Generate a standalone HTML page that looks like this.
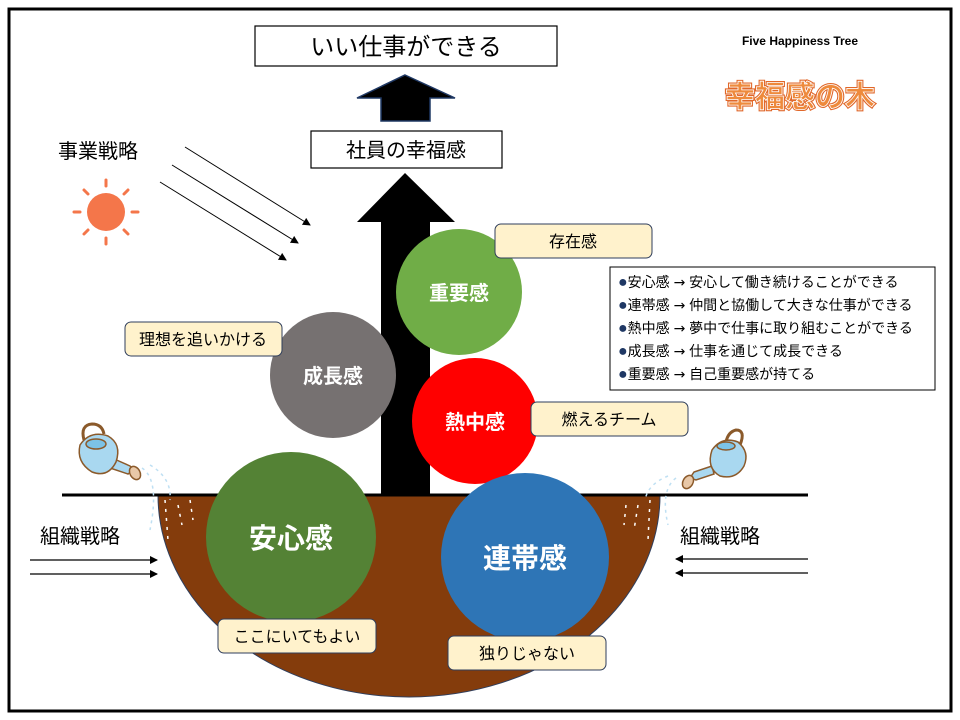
<!DOCTYPE html>
<html><head><meta charset="utf-8"><style>
html,body{margin:0;padding:0;background:#fff}
svg{display:block}
text{font-family:"Liberation Sans","Noto Sans CJK JP",sans-serif}
</style></head><body>
<svg width="960" height="720" viewBox="0 0 960 720" xmlns="http://www.w3.org/2000/svg">
<defs>
<marker id="ah" markerWidth="8" markerHeight="8" refX="7" refY="4" orient="auto" markerUnits="userSpaceOnUse"><path d="M0,0 L8,4 L0,8 z" fill="#000"/></marker>
</defs>
<rect x="9" y="9" width="942" height="702" fill="#fff" stroke="#000" stroke-width="3"/>

<!-- soil -->
<path d="M158,495 A251,202 0 0 0 660,495 Z" fill="#843c0c" stroke="#2f3e5c" stroke-width="1"/>
<line x1="62" y1="495" x2="808" y2="495" stroke="#000" stroke-width="3"/>

<!-- arrows -->
<path d="M405,173 L455,222 L430,222 L430,495 L381,495 L381,222 L357,222 Z" fill="#000"/>
<path d="M405,75 L455,98 L430,98 L430,121 L381,121 L381,98 L357,98 Z" fill="#000" stroke="#1f3864" stroke-width="1.5"/>

<!-- title boxes -->
<rect x="255" y="26" width="302" height="40" fill="#fff" stroke="#000" stroke-width="1.2"/>
<text x="406" y="55" font-size="24" text-anchor="middle">いい仕事ができる</text>
<rect x="311" y="131" width="191" height="37" fill="#fff" stroke="#000" stroke-width="1.2"/>
<text x="406" y="157" font-size="20" text-anchor="middle">社員の幸福感</text>

<text x="800" y="45" font-size="12" font-weight="bold" text-anchor="middle">Five Happiness Tree</text>
<text x="800" y="107" font-size="30" font-weight="bold" text-anchor="middle" fill="#ee8a3c" stroke="#e0672a" stroke-width="3" paint-order="stroke">幸福感の木</text>
<text x="800" y="107" font-size="30" font-weight="bold" text-anchor="middle" fill="#ee8a3c" stroke="#fff" stroke-width="0.8">幸福感の木</text>

<!-- sun & business strategy -->
<text x="58" y="158" font-size="20">事業戦略</text>
<g stroke="#f4764a" stroke-width="3" stroke-linecap="round">
<line x1="106" y1="180" x2="106" y2="186"/><line x1="106" y1="238" x2="106" y2="244"/>
<line x1="74" y1="212" x2="80" y2="212"/><line x1="132" y1="212" x2="138" y2="212"/>
<line x1="84" y1="190" x2="88" y2="194"/><line x1="124" y1="230" x2="128" y2="234"/>
<line x1="128" y1="190" x2="124" y2="194"/><line x1="88" y1="230" x2="84" y2="234"/>
</g>
<circle cx="106" cy="212" r="19" fill="#f4764a"/>
<g stroke="#000" stroke-width="1" marker-end="url(#ah)">
<line x1="185" y1="147" x2="310" y2="225"/>
<line x1="172" y1="165" x2="298" y2="243"/>
<line x1="160" y1="182" x2="286" y2="260"/>
</g>

<!-- org strategy -->
<text x="40" y="543" font-size="20">組織戦略</text>
<g stroke="#000" stroke-width="1.2" marker-end="url(#ah)">
<line x1="30" y1="560" x2="157" y2="560"/><line x1="30" y1="574" x2="157" y2="574"/>
<line x1="808" y1="559" x2="676" y2="559"/><line x1="808" y1="573" x2="676" y2="573"/>
</g>
<text x="680" y="543" font-size="20">組織戦略</text>

<!-- watering cans -->
<g stroke="#8b5a2b" stroke-width="1.5" fill="#a9d8f0">
<path d="M84,440 Q80,425 92,424 Q102,424 104,434" fill="none" stroke-width="3"/>
<path d="M112,458 L130,466 L134,470 L128,474 L110,468 Z"/>
<path d="M80,445 Q90,430 108,436 Q122,444 116,462 Q108,478 92,472 Q76,462 80,445 Z"/>
<ellipse cx="96" cy="444" rx="10" ry="5" fill="#7cc3e6"/>
<ellipse cx="135" cy="473" rx="5" ry="7" fill="#e8c8a8" transform="rotate(-30 135 473)"/>
<path d="M740,445 Q746,430 736,430 Q728,432 726,442" fill="none" stroke-width="3"/>
<path d="M712,466 L694,472 L690,478 L696,480 L714,474 Z"/>
<path d="M712,450 Q722,436 738,442 Q750,452 744,466 Q736,480 720,476 Q706,468 712,450 Z"/>
<ellipse cx="726" cy="446" rx="9" ry="4" fill="#7cc3e6"/>
<ellipse cx="688" cy="482" rx="5" ry="7" fill="#e8c8a8" transform="rotate(30 688 482)"/>
</g>
<g stroke="#bfe0f3" stroke-width="1.5" stroke-dasharray="3,4" fill="none">
<path d="M142,468 Q160,480 150,530"/><path d="M150,465 Q172,478 170,500"/>
<path d="M676,478 Q660,490 668,525"/><path d="M668,476 Q648,484 645,500"/>
</g>
<g stroke="#fff" stroke-width="1.5" stroke-dasharray="3,6">
<line x1="165" y1="500" x2="168" y2="540"/><line x1="178" y1="505" x2="182" y2="525"/><line x1="190" y1="500" x2="193" y2="520"/>
<line x1="650" y1="500" x2="648" y2="540"/><line x1="638" y1="505" x2="634" y2="530"/><line x1="626" y1="505" x2="624" y2="525"/>
</g>

<!-- circles -->
<circle cx="459" cy="292" r="63" fill="#70ad47"/>
<text x="459" y="300" font-size="20" font-weight="bold" fill="#fff" text-anchor="middle">重要感</text>
<circle cx="333" cy="375" r="63" fill="#767171"/>
<text x="333" y="383" font-size="20" font-weight="bold" fill="#fff" text-anchor="middle">成長感</text>
<circle cx="475" cy="421" r="63" fill="#ff0000"/>
<text x="475" y="429" font-size="20" font-weight="bold" fill="#fff" text-anchor="middle">熱中感</text>
<circle cx="291" cy="537" r="85" fill="#548235"/>
<text x="291" y="548" font-size="28" font-weight="bold" fill="#fff" text-anchor="middle">安心感</text>
<circle cx="525" cy="557" r="84" fill="#2e75b6"/>
<text x="525" y="568" font-size="28" font-weight="bold" fill="#fff" text-anchor="middle">連帯感</text>

<!-- labels -->
<g fill="#fff2cc" stroke="#2f3e5c" stroke-width="1">
<rect x="495" y="224" width="157" height="34" rx="6"/>
<rect x="125" y="322" width="157" height="34" rx="6"/>
<rect x="531" y="402" width="157" height="34" rx="6"/>
<rect x="218" y="619" width="158" height="34" rx="6"/>
<rect x="448" y="636" width="158" height="34" rx="6"/>
</g>
<g font-size="16" text-anchor="middle">
<text x="573" y="247">存在感</text>
<text x="203" y="345">理想を追いかける</text>
<text x="609" y="425">燃えるチーム</text>
<text x="297" y="642">ここにいてもよい</text>
<text x="527" y="659">独りじゃない</text>
</g>

<!-- legend -->
<rect x="610" y="267" width="325" height="123" fill="#fff" stroke="#000" stroke-width="1"/>
<g font-size="14">
<text x="618" y="287"><tspan fill="#1f3864" font-size="16">●</tspan>安心感 <tspan font-family="DejaVu Sans">→</tspan> 安心して働き続けることができる</text>
<text x="618" y="310"><tspan fill="#1f3864" font-size="16">●</tspan>連帯感 <tspan font-family="DejaVu Sans">→</tspan> 仲間と協働して大きな仕事ができる</text>
<text x="618" y="333"><tspan fill="#1f3864" font-size="16">●</tspan>熱中感 <tspan font-family="DejaVu Sans">→</tspan> 夢中で仕事に取り組むことができる</text>
<text x="618" y="356"><tspan fill="#1f3864" font-size="16">●</tspan>成長感 <tspan font-family="DejaVu Sans">→</tspan> 仕事を通じて成長できる</text>
<text x="618" y="379"><tspan fill="#1f3864" font-size="16">●</tspan>重要感 <tspan font-family="DejaVu Sans">→</tspan> 自己重要感が持てる</text>
</g>
</svg>
</body></html>
